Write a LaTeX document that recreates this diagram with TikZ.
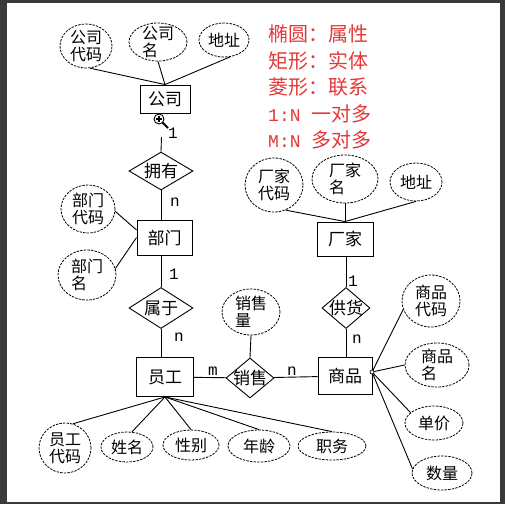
\documentclass[tikz,border=0pt]{standalone}
\usepackage{fontspec}
\newfontfamily\cjk{Noto Sans CJK SC}
\newfontfamily\monof{Liberation Mono}
\usetikzlibrary{shapes.geometric}
\definecolor{legendred}{RGB}{228,56,56}
\definecolor{framegray}{RGB}{58,58,58}
\tikzset{
  attr/.style={ellipse, draw, dash pattern=on 2.4pt off 1.2pt, line width=0.8pt, inner sep=0pt},
  attrtext/.style={align=left, inner sep=0pt, font=\cjk\fontsize{16}{17}\selectfont},
  ent/.style={rectangle, draw, line width=0.9pt, inner sep=0pt, font=\cjk\fontsize{17}{18}\selectfont},
  rel/.style={diamond, draw, line width=0.9pt, inner sep=0pt},
  reltext/.style={inner sep=0pt, font=\cjk\fontsize{17}{18}\selectfont},
  card/.style={inner sep=0pt, font=\monof\fontsize{16}{16}\selectfont},
  legend/.style={anchor=west, text=legendred, inner sep=0pt, font=\cjk\fontsize{20}{20}\selectfont},
  conn/.style={line width=0.9pt},
}
\begin{document}
\begin{tikzpicture}[x=1pt,y=-1pt]
\useasboundingbox (0,0) rectangle (505,504);
\fill[framegray] (0,0) rectangle (505,504);
\fill[white] (7,3) rectangle (499.5,502);

% legend
\node[legend] (lg1) at (268,34) {椭圆：属性};
\node[legend] (lg2) at (268,60.5) {矩形：实体};
\node[legend] (lg3) at (268,87) {菱形：联系};
\node[legend] (lg4) at (268,113.5) {{\monof\fontsize{18}{18}\selectfont 1:N}\hspace{11pt}一对多};
\node[legend] (lg5) at (268,140) {{\monof\fontsize{18}{18}\selectfont M:N}\hspace{11pt}多对多};

% entities
\node[ent, minimum width=50pt, minimum height=28pt] (gs) at (165,99) {公司};
\node[ent, minimum width=55pt, minimum height=35pt] (bm) at (164.5,237.5) {部门};
\node[ent, minimum width=57pt, minimum height=39pt] (yg) at (165,377) {员工};
\node[ent, minimum width=54pt, minimum height=37pt] (sp) at (345,376) {商品};
\node[ent, minimum width=56pt, minimum height=34pt] (cj) at (345,239) {厂家};

% relations
\node[rel, minimum width=64pt, minimum height=38pt] (yy) at (161,171) {};
\node[reltext] (yyt) at (yy) {拥有};
\node[rel, minimum width=64pt, minimum height=41pt] (sy) at (161,308) {};
\node[reltext] (syt) at (sy) {属于};
\node[rel, minimum width=48pt, minimum height=40pt] (xs) at (250,378) {};
\node[reltext] (xst) at (xs) {销售};
\node[rel, minimum width=48pt, minimum height=41pt] (gh) at (346,308) {};
\node[reltext] (ght) at (gh) {供货};

% attributes
\node[attr, minimum width=52pt, minimum height=44pt] (gsdm) at (86,46) {};
\node[attrtext] (gsdmt) at (gsdm) {公司\\代码};
\node[attr, minimum width=58pt, minimum height=38pt] (gsm) at (158,42) {};
\node[attrtext] (gsmt) at (gsm) {公司\\名};
\node[attr, minimum width=50pt, minimum height=34pt] (gsdz) at (224,40) {};
\node[attrtext] (gsdzt) at (gsdz) {地址};

\node[attr, minimum width=54pt, minimum height=48pt] (bmdm) at (88,209) {};
\node[attrtext] (bmdmt) at (bmdm) {部门\\代码};
\node[attr, minimum width=58pt, minimum height=50pt] (bmm) at (87,275) {};
\node[attrtext] (bmmt) at (bmm) {部门\\名};

\node[attr, minimum width=58pt, minimum height=46pt] (xsl) at (251,312) {};
\node[attrtext] (xslt) at (xsl) {销售\\量};

\node[attr, minimum width=58pt, minimum height=54pt] (cjdm) at (274,185) {};
\node[attrtext] (cjdmt) at (cjdm) {厂家\\代码};
\node[attr, minimum width=66pt, minimum height=48pt] (cjm) at (345,179) {};
\node[attrtext] (cjmt) at (cjm) {厂家\\名};
\node[attr, minimum width=52pt, minimum height=38pt] (cjdz) at (416,182) {};
\node[attrtext] (cjdzt) at (cjdz) {地址};

\node[attr, minimum width=58pt, minimum height=52pt] (spdm) at (431,301) {};
\node[attrtext] (spdmt) at (spdm) {商品\\代码};
\node[attr, minimum width=64pt, minimum height=44pt] (spm) at (437,365) {};
\node[attrtext] (spmt) at (spm) {商品\\名};
\node[attr, minimum width=58pt, minimum height=34pt] (dj) at (434,423) {};
\node[attrtext] (djt) at (dj) {单价};
\node[attr, minimum width=60pt, minimum height=34pt] (sl) at (442,473) {};
\node[attrtext] (slt) at (sl) {数量};

\node[attr, minimum width=52pt, minimum height=50pt] (ygdm) at (65,448) {};
\node[attrtext] (ygdmt) at (ygdm) {员工\\代码};
\node[attr, minimum width=52pt, minimum height=30pt] (xm) at (127,447) {};
\node[attrtext] (xmt) at (xm) {姓名};
\node[attr, minimum width=56pt, minimum height=30pt] (xb) at (191,445) {};
\node[attrtext] (xbt) at (xb) {性别};
\node[attr, minimum width=62pt, minimum height=32pt] (nl) at (259,446) {};
\node[attrtext] (nlt) at (nl) {年龄};
\node[attr, minimum width=68pt, minimum height=28pt] (zw) at (332,446) {};
\node[attrtext] (zwt) at (zw) {职务};

% small junction circle at 商品
\node[circle, draw, line width=0.7pt, fill=white, inner sep=0pt, minimum size=4pt] (spc) at (372,372) {};

% connectors
\coordinate (cur) at (161.5,137);
\draw[conn] (gsdm.-80) -- (gs.north);
\draw[conn] (gsm.south) -- (gs.north);
\draw[conn] (gsdz.-70) -- (gs.north);
\draw[conn] (yy.north) -- (cur);
\draw[conn] (yy.south) -- (yy.south |- bm.north);
\draw[conn] (bmdm.-5) -- (bm.165);
\draw[conn] (bmm.13) -- (bm.west);
\draw[conn] (sy.north |- bm.south) -- (sy.north);
\draw[conn] (sy.south) -- (sy.south |- yg.north);
\draw[conn] (yg) -- (xs);
\draw[conn] (xs) -- (sp);
\draw[conn] (xsl.south) -- (xs.north);
\draw[conn] (cjdm.-65) -- (cj.north);
\draw[conn] (cjm.south) -- (cj.north);
\draw[conn] (cjdz.south) -- (cj.north);
\draw[conn] (gh.north |- cj.south) -- (gh.north);
\draw[conn] (gh.south) -- (gh.south |- sp.north);
\draw[conn] (spc) -- (spdm.197);
\draw[conn] (spc) -- (spm.west);
\draw[conn] (spc) -- (dj.156);
\draw[conn] (spc) -- (sl.172);
\draw[conn] (yg.south) -- (ygdm.72);
\draw[conn] (yg.south) -- (xm.72);
\draw[conn] (yg.south) -- (xb.north);
\draw[conn] (yg.south) -- (nl.north);
\draw[conn] (yg.south) -- (zw.north);

% cardinalities
\node[card] (c1) at (173,133) {1};
\node[card] (c2) at (175,202) {n};
\node[card] (c3) at (174,274) {1};
\node[card] (c4) at (179,337) {n};
\node[card] (c5) at (213,371) {m};
\node[card] (c6) at (292,371) {n};
\node[card] (c7) at (353,281) {1};
\node[card] (c8) at (357,339) {n};

% magnifier cursor
\draw[line width=1.8pt] (162.5,122.5) -- (168,128);
\draw[line width=0.9pt, fill=white] (159,119) circle (5pt);
\draw[line width=1.3pt] (156,119) -- (162,119) (159,116) -- (159,122);
\end{tikzpicture}
\end{document}
